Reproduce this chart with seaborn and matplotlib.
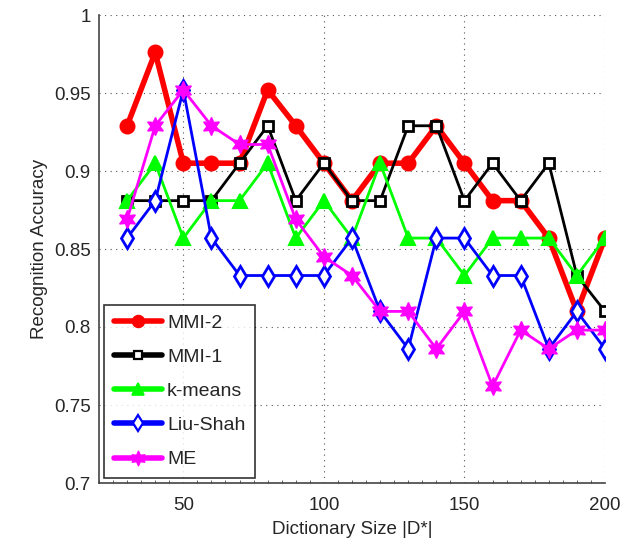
import matplotlib
matplotlib.use("Agg")
import matplotlib.pyplot as plt
from matplotlib.ticker import MultipleLocator
from matplotlib.lines import Line2D
import seaborn as sns
import pandas as pd

sizes = [30, 40, 50, 60, 70, 80, 90, 100, 110, 120, 130, 140, 150, 160, 170, 180, 190, 200]
mmi2 = [0.929, 0.976, 0.905, 0.905, 0.905, 0.952, 0.929, 0.905, 0.881, 0.905, 0.905, 0.929, 0.905, 0.881, 0.881, 0.857, 0.810, 0.857]
mmi1 = [0.881, 0.881, 0.881, 0.881, 0.905, 0.929, 0.881, 0.905, 0.881, 0.881, 0.929, 0.929, 0.881, 0.905, 0.881, 0.905, 0.833, 0.810]
kmeans = [0.881, 0.905, 0.857, 0.881, 0.881, 0.905, 0.857, 0.881, 0.857, 0.905, 0.857, 0.857, 0.833, 0.857, 0.857, 0.857, 0.833, 0.857]
liushah = [0.857, 0.881, 0.952, 0.857, 0.833, 0.833, 0.833, 0.833, 0.857, 0.810, 0.786, 0.857, 0.857, 0.833, 0.833, 0.786, 0.810, 0.786]
me = [0.869, 0.929, 0.952, 0.929, 0.917, 0.917, 0.869, 0.845, 0.833, 0.810, 0.810, 0.786, 0.810, 0.762, 0.798, 0.786, 0.798, 0.798]

series = ["MMI-2", "MMI-1", "k-means", "Liu-Shah", "ME"]
values = [mmi2, mmi1, kmeans, liushah, me]

sns.set_style("white")
plt.rcParams['font.family'] = ['Liberation Sans', 'DejaVu Sans']

fig = plt.figure(figsize=(6.27, 5.47), dpi=100)
ax = fig.add_axes([99/627, 1 - 483/547, (605-99)/627, (483-15)/547])

hexagram = (6, 1, 0)
styles = {
    "MMI-2":   dict(color="#ff0000", marker="o", lw=4.0, ms=10, mfc="#ff0000", mec="#ff0000", mew=1.5),
    "MMI-1":   dict(color="#000000", marker="s", lw=2.0, ms=7, mfc="white", mec="black", mew=2.0),
    "k-means": dict(color="#00ff00", marker="^", lw=2.0, ms=10, mfc="#00ff00", mec="#00ff00", mew=1.5),
    "Liu-Shah":dict(color="#0000ff", marker="d", lw=2.0, ms=10, mfc="white", mec="#0000ff", mew=2.0),
    "ME":      dict(color="#ff00ff", marker=hexagram, lw=2.0, ms=13, mfc="#ff00ff", mec="#ff00ff", mew=1.0),
}

for name, vals in zip(series, values):
    df = pd.DataFrame({"size": sizes, "acc": vals})
    st = styles[name]
    sns.lineplot(data=df, x="size", y="acc", ax=ax, color=st["color"], lw=st["lw"],
                 marker=st["marker"], markersize=st["ms"], markerfacecolor=st["mfc"],
                 markeredgecolor=st["mec"], markeredgewidth=st["mew"], legend=False)

ax.set_xlim(20, 200)
ax.set_ylim(0.7, 1.0)
ax.set_xticks([50, 100, 150, 200])
ax.xaxis.set_minor_locator(MultipleLocator(5))
ax.set_yticks([0.7, 0.75, 0.8, 0.85, 0.9, 0.95, 1.0])
ax.set_yticklabels(["0.7", "0.75", "0.8", "0.85", "0.9", "0.95", "1"])
ax.tick_params(axis="both", which="major", direction="in", labelsize=13.5, length=5,
               color="#444444", pad=6)
ax.tick_params(axis="x", which="major", pad=10)
ax.tick_params(axis="x", which="minor", direction="in", length=2, color="#444444", bottom=True)
ax.grid(True, which="major", linestyle=(0, (1, 4)), color="#555555", linewidth=0.8)
for s in ["top", "right"]:
    ax.spines[s].set_visible(False)
for s in ["left", "bottom"]:
    ax.spines[s].set_color("#444444")
    ax.spines[s].set_linewidth(1.2)

ax.set_xlabel("Dictionary Size |D*|", fontsize=13.5, labelpad=5)
ax.set_ylabel("Recognition Accuracy", fontsize=13.5, labelpad=4)

handles = []
for name in series:
    st = styles[name]
    ms = st["ms"] * 0.85
    handles.append(Line2D([], [], color=st["color"], lw=4.0, marker=st["marker"], markersize=ms,
                          markerfacecolor=st["mfc"], markeredgecolor=st["mec"],
                          markeredgewidth=st["mew"] * 0.8))
leg = ax.legend(handles, series, loc="lower left", fontsize=14, frameon=True, fancybox=False,
                edgecolor="black", handlelength=2.5, handletextpad=0.25, borderpad=0.5,
                labelspacing=0.85, borderaxespad=0.25)
leg.get_frame().set_linewidth(1.2)

fig.savefig("out.png", dpi=100)
